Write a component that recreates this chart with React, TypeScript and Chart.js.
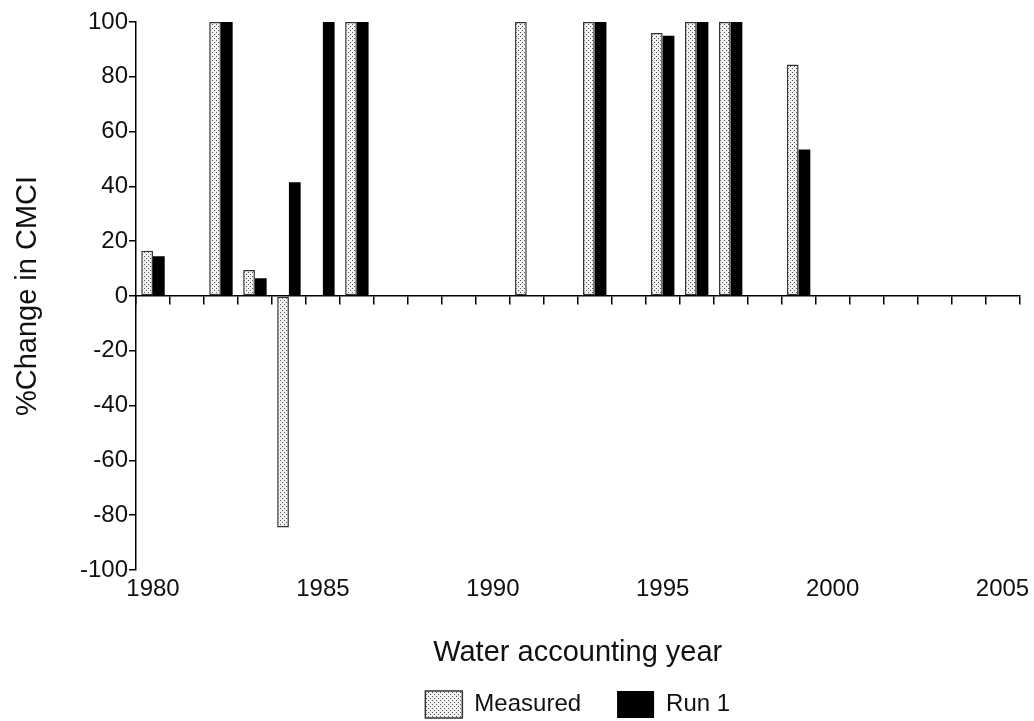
import React, { useEffect, useRef } from 'react';
import { Chart, registerables } from 'chart.js';

Chart.register(...registerables);

const years = [
  '1980', '1981', '1982', '1983', '1984', '1985', '1986', '1987', '1988',
  '1989', '1990', '1991', '1992', '1993', '1994', '1995', '1996', '1997',
  '1998', '1999', '2000', '2001', '2002', '2003', '2004', '2005',
];

const measured = [
  16.5, null, 100, 9.5, -84.5, null, 100, null, null,
  null, null, 100, null, 100, null, 96, 100, 100,
  null, 84.5, null, null, null, null, null, null,
];

const run1 = [
  14.5, null, 100, 6.5, 41.5, 100, 100, null, null,
  null, null, null, null, 100, null, 95, 100, 100,
  null, 53.5, null, null, null, null, null, null,
];

const yTicks = [-100, -80, -60, -40, -20, 0, 20, 40, 60, 80, 100];
const labelYears = ['1980', '1985', '1990', '1995', '2000', '2005'];

const FONT = 'Liberation Sans, Arial, sans-serif';
const INK = '#111';

function makeDots(): CanvasPattern | string {
  const c = document.createElement('canvas');
  c.width = 4;
  c.height = 4;
  const g = c.getContext('2d');
  if (!g) return '#ddd';
  g.fillStyle = '#f2f2f2';
  g.fillRect(0, 0, 4, 4);
  g.fillStyle = '#555';
  g.fillRect(0, 0, 1, 1);
  g.fillRect(2, 2, 1, 1);
  return g.createPattern(c, 'repeat') || '#ddd';
}

const App: React.FC = () => {
  const chartRef = useRef<HTMLCanvasElement>(null);
  const chartInstance = useRef<Chart | null>(null);

  useEffect(() => {
    if (!chartRef.current) return;
    const ctx = chartRef.current.getContext('2d');
    if (!ctx) return;
    if (chartInstance.current) chartInstance.current.destroy();

    const dots = makeDots();

    chartInstance.current = new Chart(ctx, {
      type: 'bar',
      data: {
        labels: years,
        datasets: [
          {
            label: 'Measured',
            data: measured,
            backgroundColor: dots,
            borderColor: '#333',
            borderWidth: 1.5,
            borderSkipped: false,
            categoryPercentage: 0.69,
            barPercentage: 1,
          },
          {
            label: 'Run 1',
            data: run1,
            backgroundColor: '#000',
            borderColor: '#000',
            borderWidth: 0,
            categoryPercentage: 0.69,
            barPercentage: 1,
          },
        ],
      },
      options: {
        responsive: true,
        maintainAspectRatio: false,
        animation: false,
        layout: { padding: { top: 22, right: 12, bottom: 0, left: 0 } },
        plugins: {
          tooltip: { enabled: false },
          legend: {
            position: 'bottom',
            fullSize: false,
            maxHeight: 66,
            labels: {
              boxWidth: 37,
              boxHeight: 27,
              padding: 36,
              color: INK,
              font: { size: 24, family: FONT },
            },
          },
        },
        scales: {
          x: {
            type: 'category',
            position: 'bottom',
            offset: true,
            grid: { display: false, drawTicks: false, offset: true },
            border: { display: false },
            ticks: {
              autoSkip: false,
              maxRotation: 0,
              padding: 4.6,
              color: INK,
              font: { size: 24, family: FONT },
              callback: (_v, i) => (labelYears.includes(years[i]) ? years[i] : ''),
            },
            title: {
              display: true,
              text: 'Water accounting year',
              color: INK,
              font: { size: 29, family: FONT },
              padding: { top: 27.6, bottom: -15.4 },
            },
          },
          x2: {
            type: 'category',
            axis: 'x',
            position: { y: 0 },
            offset: true,
            grid: {
              display: true,
              drawOnChartArea: false,
              drawTicks: true,
              tickLength: 8,
              offset: true,
              color: '#000',
              lineWidth: 1.5,
            },
            border: { display: true, color: '#000', width: 1.5 },
            ticks: { display: false, autoSkip: false },
          },
          y: {
            type: 'linear',
            position: 'left',
            min: yTicks[0],
            max: yTicks[yTicks.length - 1],
            afterFit: (scale) => {
              scale.width = 136;
            },
            grid: {
              display: true,
              drawOnChartArea: false,
              drawTicks: true,
              tickLength: 7,
              color: '#000',
              lineWidth: 1.5,
            },
            border: { display: true, color: '#000', width: 1.5 },
            ticks: {
              stepSize: 20,
              padding: 1,
              color: INK,
              font: { size: 24, family: FONT },
            },
            title: {
              display: true,
              text: '%Change in CMCI',
              color: INK,
              font: { size: 29, family: FONT },
              padding: { top: 11, bottom: 0 },
            },
          },
        },
      },
    });

    return () => {
      if (chartInstance.current) {
        chartInstance.current.destroy();
        chartInstance.current = null;
      }
    };
  }, []);

  return (
    <div style={{ position: 'fixed', left: 0, top: 0, width: 1034, height: 721, background: '#fff' }}>
      <canvas ref={chartRef} />
    </div>
  );
};

export default App;
